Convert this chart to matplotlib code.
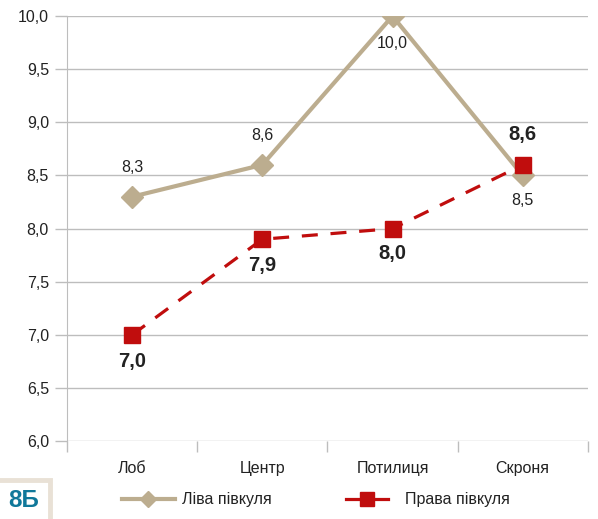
import matplotlib
matplotlib.use("Agg")
import matplotlib.pyplot as plt
from matplotlib.patches import Rectangle

plt.rcParams['font.family'] = ['Liberation Sans', 'DejaVu Sans']

regions = ["Лоб", "Центр", "Потилиця", "Скроня"]
left_hemi = [8.3, 8.6, 10.0, 8.5]
right_hemi = [7.0, 7.9, 8.0, 8.6]
yticks = [6.0, 6.5, 7.0, 7.5, 8.0, 8.5, 9.0, 9.5, 10.0]

tan = "#BCAD8F"
red = "#C00D0D"
grid_c = "#BDBDBD"
txt = "#222222"
fs = 11.5

fig = plt.figure(figsize=(5.98, 5.19), dpi=100)
ax = fig.add_axes([0.112, 0.150, 0.871, 0.819])

x = list(range(len(regions)))
l1, = ax.plot(x, left_hemi, color=tan, lw=3, marker="D", ms=11.5,
              mec=tan, mfc=tan, zorder=3, label="Ліва півкуля")
l2, = ax.plot(x, right_hemi, color=red, lw=2.3, ls=(0, (5, 4)), marker="s",
              ms=11.5, mec=red, mfc=red, zorder=4, label="Права півкуля")

ax.set_xlim(-0.5, 3.5)
ax.set_ylim(6.0, 10.0)
ax.set_yticks(yticks)
ax.set_yticklabels([f"{v:.1f}".replace(".", ",") for v in yticks],
                   fontsize=fs, color=txt)
ax.set_xticks(x)
ax.set_xticklabels(regions, fontsize=fs, color=txt)
ax.tick_params(axis="x", length=0, pad=14)
ax.tick_params(axis="y", length=9, color=grid_c, width=1, pad=4)
ax.set_xticks([-0.5, 0.5, 1.5, 2.5, 3.5], minor=True)
ax.tick_params(axis="x", which="minor", length=8, color=grid_c, width=1)

ax.yaxis.grid(True, color=grid_c, lw=1)
ax.set_axisbelow(True)
for s in ["top", "right", "bottom"]:
    ax.spines[s].set_visible(False)
ax.spines["left"].set_color(grid_c)

# value labels
offs_left = [21, 21, -20, -18]
for xi, v, o in zip(x, left_hemi, offs_left):
    ax.annotate(f"{v:.1f}".replace(".", ","), (xi, v), xytext=(0, o),
                textcoords="offset points", ha="center", va="center",
                fontsize=fs, color=txt)
offs_right = [-19, -19, -18, 22]
for xi, v, o in zip(x, right_hemi, offs_right):
    ax.annotate(f"{v:.1f}".replace(".", ","), (xi, v), xytext=(0, o),
                textcoords="offset points", ha="center", va="center",
                fontsize=14.5, fontweight="bold", color=txt)

# two separate legend entries along the bottom
leg1 = fig.legend(handles=[l1], loc="center left", bbox_to_anchor=(0.204, 0.037),
                  frameon=False, fontsize=fs, handlelength=3.3, markerscale=0.72,
                  handletextpad=0.44, labelcolor=txt, borderpad=0, borderaxespad=0)
leg2 = fig.legend(handles=[l2], loc="center left", bbox_to_anchor=(0.579, 0.037),
                  frameon=False, fontsize=fs, handlelength=2.6, markerscale=0.9,
                  handletextpad=1.06, labelcolor=txt, borderpad=0, borderaxespad=0)
leg2.get_lines()[0].set_linestyle("-")

# badge in the corner
fig.add_artist(Rectangle((-0.01, -0.01), 0.093, 0.086, transform=fig.transFigure,
                         fill=False, ec="#E9E1D6", lw=3.5))
fig.text(0.039, 0.036, "8Б", fontsize=17.5, fontweight="bold", color="#10789A",
         ha="center", va="center")

fig.savefig("out.png", dpi=100)
